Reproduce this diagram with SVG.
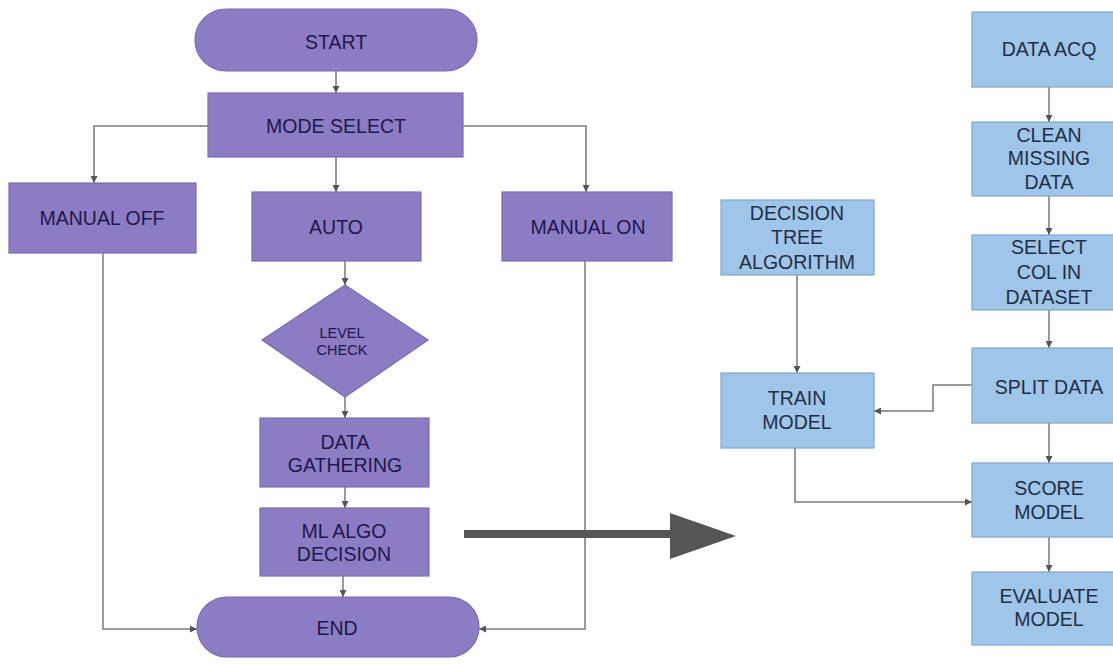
<svg xmlns="http://www.w3.org/2000/svg" width="1113" height="664" viewBox="0 0 1113 664">
<defs>
<style>
.p{fill:#8b7cc4;stroke:#7a6bb2;stroke-width:1.2}
.b{fill:#9fc5e8;stroke:#7fa7cc;stroke-width:1.2}
.tp{font-family:"Liberation Sans",Arial,sans-serif;font-size:19.5px;fill:#22174c;text-anchor:middle}
.tb{font-family:"Liberation Sans",Arial,sans-serif;font-size:19.5px;fill:#1f2f47;text-anchor:middle}
.ts{font-family:"Liberation Sans",Arial,sans-serif;font-size:14.5px;fill:#22174c;text-anchor:middle}
.c{fill:none;stroke:#7a7a7a;stroke-width:1.5}
</style>
<marker id="ah" viewBox="0 0 10 10" refX="10" refY="5" markerWidth="7" markerHeight="7" markerUnits="userSpaceOnUse" orient="auto">
<path d="M0,0 L10,5 L0,10 z" fill="#555"/>
</marker>
</defs>
<rect width="1113" height="664" fill="#ffffff"/>
<g id="connectors">
<path class="c" d="M336,71 V93" marker-end="url(#ah)"/>
<path class="c" d="M208,126 H94 V183" marker-end="url(#ah)"/>
<path class="c" d="M336,157 V192" marker-end="url(#ah)"/>
<path class="c" d="M463,126 H586 V192" marker-end="url(#ah)"/>
<path class="c" d="M345,261 V285" marker-end="url(#ah)"/>
<path class="c" d="M345,396 V418" marker-end="url(#ah)"/>
<path class="c" d="M345,487 V508" marker-end="url(#ah)"/>
<path class="c" d="M343,576 V597" marker-end="url(#ah)"/>
<path class="c" d="M103,253 V629 H197" marker-end="url(#ah)"/>
<path class="c" d="M585,261 V629 H479" marker-end="url(#ah)"/>
<path class="c" d="M1049,87 V122" marker-end="url(#ah)"/>
<path class="c" d="M1049,196 V235" marker-end="url(#ah)"/>
<path class="c" d="M1049,310 V348" marker-end="url(#ah)"/>
<path class="c" d="M1049,423 V463" marker-end="url(#ah)"/>
<path class="c" d="M1049,537 V572" marker-end="url(#ah)"/>
<path class="c" d="M797,275 V373" marker-end="url(#ah)"/>
<path class="c" d="M972,385 H933 V411 H874" marker-end="url(#ah)"/>
<path class="c" d="M795,448 V502 H972" marker-end="url(#ah)"/>
<g id="big-arrow">
<rect x="464" y="530" width="208" height="8" fill="#555"/>
<path d="M670,513 L736,536 L670,559 z" fill="#555"/>
</g>
</g>
<g id="start"><rect class="p" x="195" y="9" width="282" height="62" rx="31"/><text class="tp" x="336" y="49">START</text></g>
<g id="mode-select"><rect class="p" x="208" y="93" width="255" height="64"/><text class="tp" x="336" y="133">MODE SELECT</text></g>
<g id="manual-off"><rect class="p" x="9" y="183" width="187" height="70"/><text class="tp" x="102" y="225">MANUAL OFF</text></g>
<g id="auto"><rect class="p" x="252" y="192" width="169" height="69"/><text class="tp" x="336" y="234">AUTO</text></g>
<g id="manual-on"><rect class="p" x="502" y="192" width="170" height="69"/><text class="tp" x="588" y="234">MANUAL ON</text></g>
<g id="level-check"><path class="p" d="M345,285 L428,340 L345,397 L262,340 z"/><text class="ts" x="342" y="338">LEVEL</text><text class="ts" x="342" y="355">CHECK</text></g>
<g id="data-gathering"><rect class="p" x="260" y="418" width="169" height="69"/><text class="tp" x="345" y="449">DATA</text><text class="tp" x="345" y="472">GATHERING</text></g>
<g id="ml-algo"><rect class="p" x="260" y="508" width="169" height="68"/><text class="tp" x="344" y="538">ML ALGO</text><text class="tp" x="344" y="561">DECISION</text></g>
<g id="end"><rect class="p" x="197" y="597" width="282" height="60" rx="30"/><text class="tp" x="337" y="635">END</text></g>
<g id="data-acq"><rect class="b" x="972" y="12" width="154" height="75"/><text class="tb" x="1049" y="56">DATA ACQ</text></g>
<g id="clean"><rect class="b" x="972" y="122" width="154" height="74"/><text class="tb" x="1049" y="142">CLEAN</text><text class="tb" x="1049" y="165">MISSING</text><text class="tb" x="1049" y="189">DATA</text></g>
<g id="select-col"><rect class="b" x="972" y="235" width="154" height="75"/><text class="tb" x="1049" y="254">SELECT</text><text class="tb" x="1049" y="279">COL IN</text><text class="tb" x="1049" y="304">DATASET</text></g>
<g id="split"><rect class="b" x="972" y="348" width="154" height="75"/><text class="tb" x="1049" y="394">SPLIT DATA</text></g>
<g id="score"><rect class="b" x="972" y="463" width="154" height="74"/><text class="tb" x="1049" y="495">SCORE</text><text class="tb" x="1049" y="519">MODEL</text></g>
<g id="evaluate"><rect class="b" x="972" y="572" width="154" height="73"/><text class="tb" x="1049" y="603">EVALUATE</text><text class="tb" x="1049" y="626">MODEL</text></g>
<g id="decision-tree"><rect class="b" x="721" y="200" width="153" height="75"/><text class="tb" x="797" y="220">DECISION</text><text class="tb" x="797" y="244">TREE</text><text class="tb" x="797" y="269">ALGORITHM</text></g>
<g id="train"><rect class="b" x="721" y="373" width="153" height="75"/><text class="tb" x="797" y="405">TRAIN</text><text class="tb" x="797" y="429">MODEL</text></g>
</svg>
